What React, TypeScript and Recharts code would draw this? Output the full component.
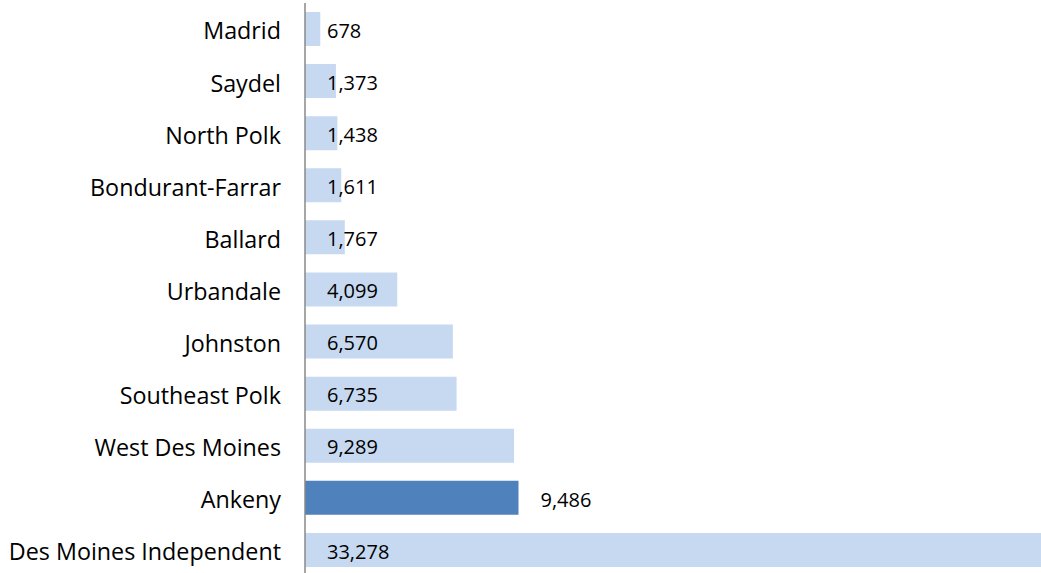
import React from "react";
import { BarChart, Bar, XAxis, YAxis, Cell, LabelList } from "recharts";

const districts = [
  "Madrid",
  "Saydel",
  "North Polk",
  "Bondurant-Farrar",
  "Ballard",
  "Urbandale",
  "Johnston",
  "Southeast Polk",
  "West Des Moines",
  "Ankeny",
  "Des Moines Independent",
];
const enrollment = [678, 1373, 1438, 1611, 1767, 4099, 6570, 6735, 9289, 9486, 33278];
const highlighted = ["Ankeny"];

const data = districts.map((name, i) => ({ name, value: enrollment[i] }));

const FONT = "'Open Sans', Lato, sans-serif";

const ValueLabel = (props: any) => {
  const { x, y, width, height, value, index } = props;
  const isHi = highlighted.includes(districts[index]);
  const tx = isHi ? x + width + 22 : x + 22;
  return (
    <text
      x={tx}
      y={y + height / 2 + 1.5}
      dy="0.36em"
      fill="#000"
      fontSize={20}
      fontFamily={FONT}
    >
      {Number(value).toLocaleString("en-US")}
    </text>
  );
};

const CategoryTick = (props: any) => {
  const { x, y, payload } = props;
  return (
    <text
      x={x}
      y={y + 2}
      dy="0.36em"
      textAnchor="end"
      fill="#000"
      fontSize={23.3}
      fontFamily={FONT}
    >
      {payload.value}
    </text>
  );
};

export default function App() {
  return (
    <div
      style={{
        position: "absolute",
        left: 0,
        top: 0,
        width: 1041,
        height: 573,
        overflow: "hidden",
        background: "#fff",
      }}
    >
      <BarChart
        width={1041}
        height={580}
        data={data}
        layout="vertical"
        margin={{ top: 3, right: 0, bottom: 4, left: 0 }}
        barSize={34}
      >
        <XAxis type="number" hide domain={[0, 32700]} allowDataOverflow />
        <YAxis
          type="category"
          dataKey="name"
          width={305}
          tickLine={false}
          tickSize={0}
          tickMargin={24}
          axisLine={{ stroke: "#888", strokeWidth: 1.5 }}
          tick={<CategoryTick />}
          interval={0}
        />
        <Bar dataKey="value" isAnimationActive={false}>
          {data.map((d) => (
            <Cell
              key={d.name}
              fill={highlighted.includes(d.name) ? "#4f81bd" : "#c6d9f1"}
            />
          ))}
          <LabelList dataKey="value" content={ValueLabel} />
        </Bar>
      </BarChart>
    </div>
  );
}
